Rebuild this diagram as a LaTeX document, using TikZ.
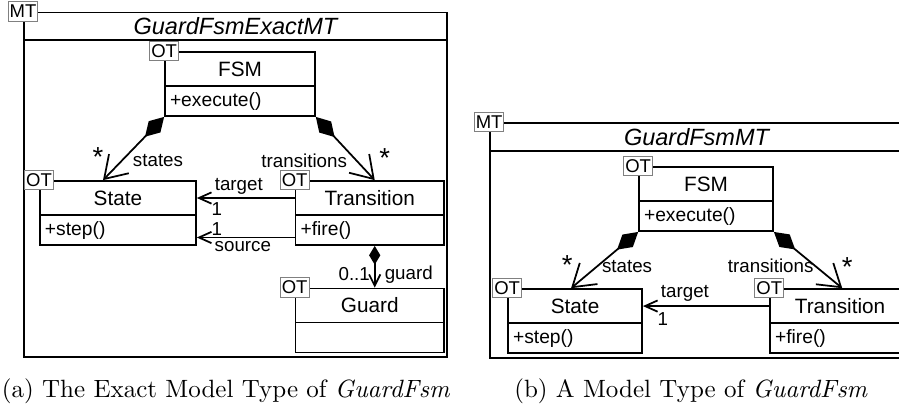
\documentclass[tikz,border=0pt]{standalone}
\usepackage{fontspec}
\newfontfamily\umlfont{Liberation Sans}
\usepackage{tikz}
\usetikzlibrary{shapes, arrows.meta, positioning}
\tikzstyle{mtname} = [rectangle, draw=black, line width=0.7pt, fill=white, inner sep=0pt, font=\umlfont\itshape\fontsize{9.4}{10}\selectfont]
\tikzstyle{mtbody} = [rectangle, draw=black, line width=0.7pt, inner sep=0pt]
\tikzstyle{classname} = [rectangle, draw=black, line width=0.7pt, fill=white, minimum height=0.478cm, inner sep=0pt, font=\umlfont\fontsize{8.3}{9}\selectfont]
\tikzstyle{classops} = [rectangle, draw=black, line width=0.7pt, fill=white, minimum height=0.422cm, inner xsep=2pt, inner ysep=0pt, align=left, font=\umlfont\fontsize{7.7}{8}\selectfont]
\tikzstyle{tag} = [rectangle, draw=gray, line width=0.4pt, fill=white, minimum width=11.6pt, minimum height=7.8pt, inner sep=0pt, font=\umlfont\fontsize{7.4}{8}\selectfont]
\tikzstyle{lbl} = [inner sep=0pt, font=\umlfont\fontsize{7.5}{8}\selectfont]
\tikzstyle{mult} = [inner sep=0pt, font=\umlfont\fontsize{11}{11}\selectfont]
\tikzstyle{comp} = [{Diamond[length=11pt,width=6.5pt]}-{Straight Barb[length=8.5pt,width=11pt]}, line width=0.7pt]
\tikzstyle{compshort} = [{Diamond[length=7.5pt,width=4.5pt]}-{Straight Barb[length=4.5pt,width=4.5pt]}, line width=0.7pt]
\tikzstyle{nav} = [-{Straight Barb[length=5pt,width=4.5pt]}, line width=0.7pt]

\begin{document}
\begin{tikzpicture}[node distance=0.45cm]
\useasboundingbox (0,0) rectangle (12.636,-5.735);
% (a) exact model type
\node (titleA) [mtname, minimum width=5.946cm, minimum height=0.387cm] at (3.310,-0.369) {GuardFsmExactMT};
\node (frameA) [mtbody, minimum width=5.946cm, minimum height=4.456cm, below of=titleA, yshift=-1.971cm] {};
\node (tagA) [tag] at (titleA.north west) {MT};
\node (fsmA) [classname, minimum width=2.108cm, below of=titleA, xshift=0.063cm, yshift=-0.151cm] {FSM};
\node (fsmAops) [classops, text width=1.967cm, below of=fsmA] {+execute()};
\node (fsmAtag) [tag] at (fsmA.north west) {OT};
\node (stateA) [classname, minimum width=2.193cm, below of=fsmA, xshift=-1.715cm, yshift=-1.363cm] {State};
\node (stateAops) [classops, text width=2.052cm, below of=stateA] {+step()};
\node (stateAtag) [tag] at (stateA.north west) {OT};
\node (transA) [classname, minimum width=2.087cm, below of=fsmA, xshift=1.824cm, yshift=-1.363cm] {Transition};
\node (transAops) [classops, text width=1.946cm, below of=transA] {+fire()};
\node (transAtag) [tag] at (transA.north west) {OT};
\node (guardA) [classname, minimum width=2.087cm, below of=transAops, yshift=-0.611cm] {Guard};
\node (guardAops) [classops, text width=1.946cm, below of=guardA] {};
\node (guardAtag) [tag] at (guardA.north west) {OT};
\draw [comp] (fsmAops.south west) -- ([xshift=-0.21cm]stateA.north)
  node [mult, at end, xshift=-0.07cm, yshift=0.32cm] {*}
  node [lbl, at end, xshift=0.773cm, yshift=0.281cm] {states};
\draw [comp] (fsmAops.south east) -- ([xshift=0.07cm]transA.north)
  node [mult, at end, xshift=0.141cm, yshift=0.31cm] {*}
  node [lbl, at end, xshift=-0.991cm, yshift=0.267cm] {transitions};
\draw [nav] (transA.west) -- (stateA.east)
  node [lbl, at end, xshift=0.59cm, yshift=0.16cm] {target}
  node [lbl, at end, xshift=0.281cm, yshift=-0.162cm] {1};
\draw [nav] ([yshift=-0.105cm]transAops.west) -- ([yshift=-0.105cm]stateAops.east)
  node [lbl, at end, xshift=0.281cm, yshift=0.112cm] {1}
  node [lbl, at end, xshift=0.647cm, yshift=-0.125cm] {source};
\draw [compshort] ([xshift=0.07cm]transAops.south) -- ([xshift=0.07cm]guardA.north)
  node [lbl, at end, xshift=-0.288cm, yshift=0.19cm] {0..1}
  node [lbl, at end, xshift=0.478cm, yshift=0.176cm] {guard};
% (b) a model type
\node (titleB) [mtname, minimum width=5.805cm, minimum height=0.394cm, below of=titleA, xshift=6.480cm, yshift=-1.107cm] {GuardFsmMT};
\node (frameB) [mtbody, minimum width=5.805cm, minimum height=2.910cm, below of=titleB, yshift=-1.202cm] {};
\node (tagB) [tag] at (titleB.north west) {MT};
\node (fsmB) [classname, minimum width=1.884cm, below of=titleB, xshift=0.134cm, yshift=-0.211cm] {FSM};
\node (fsmBops) [classops, text width=1.743cm, below of=fsmB] {+execute()};
\node (fsmBtag) [tag] at (fsmB.north west) {OT};
\node (stateB) [classname, minimum width=1.884cm, below of=fsmB, xshift=-1.841cm, yshift=-1.265cm] {State};
\node (stateBops) [classops, text width=1.743cm, below of=stateB] {+step()};
\node (stateBtag) [tag] at (stateB.north west) {OT};
\node (transB) [classname, minimum width=1.968cm, below of=fsmB, xshift=1.884cm, yshift=-1.265cm] {Transition};
\node (transBops) [classops, text width=1.827cm, below of=transB] {+fire()};
\node (transBtag) [tag] at (transB.north west) {OT};
\draw [comp] (fsmBops.south west) -- ([xshift=-0.056cm]stateB.north)
  node [mult, at end, xshift=-0.056cm, yshift=0.32cm] {*}
  node [lbl, at end, xshift=0.787cm, yshift=0.309cm] {states};
\draw [comp] (fsmBops.south east) -- ([xshift=0.03cm]transB.north)
  node [mult, at end, xshift=0.07cm, yshift=0.295cm] {*}
  node [lbl, at end, xshift=-1.005cm, yshift=0.309cm] {transitions};
\draw [nav] (transB.west) -- (stateB.east)
  node [lbl, at end, xshift=0.59cm, yshift=0.183cm] {target}
  node [lbl, at end, xshift=0.281cm, yshift=-0.176cm] {1};
% captions
\node (capA) at (3.177,-5.496) {(a) The Exact Model Type of \textit{GuardFsm}};
\node (capB) at (9.713,-5.496) {(b) A Model Type of \textit{GuardFsm}};
\end{tikzpicture}
\end{document}
